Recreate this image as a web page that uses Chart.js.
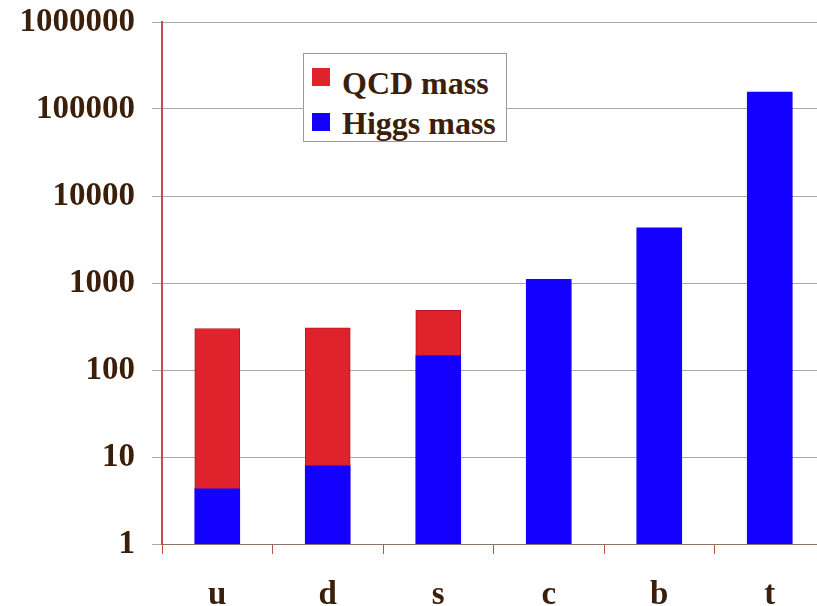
<!DOCTYPE html>
<html>
<head>
<meta charset="utf-8">
<script src="https://cdn.jsdelivr.net/npm/chart.js@4.4.1/dist/chart.umd.min.js"></script>
<style>
  html, body { margin: 0; padding: 0; background: #fff; overflow: hidden; width: 817px; height: 606px; }
  #wrap { position: relative; width: 825px; height: 606px; }
  #legend {
    position: absolute; left: 303px; top: 53px; width: 202px; height: 87px;
    border: 1px solid #9a9a9a; background: #fff;
    font: bold 32px "Liberation Serif", "Times New Roman", serif; color: #3b1f0a;
  }
  #legend .sw { position: absolute; left: 8px; width: 18px; height: 18px; }
  #legend .txt { position: absolute; left: 38px; line-height: 32px; white-space: nowrap; }
</style>
</head>
<body>
<div id="wrap">
  <canvas id="c" width="825" height="606"></canvas>
  <div id="legend"></div>
</div>
<script>
// Quark masses (MeV) on a log axis: Higgs-generated part and total with QCD binding
const quarks = ['u', 'd', 's', 'c', 'b', 't'];
const higgsMass = [4.3, 7.9, 146, 1100, 4300, 157000];
const totalMass = [300, 305, 485, null, null, null];
const yTickValues = [1, 10, 100, 1000, 10000, 100000, 1000000];
const yTickLabels = ['1', '10', '100', '1000', '10000', '100000', '1000000'];

const RED = '#e0222c';
const BLUE = '#1400ff';
const TEXT = '#3b1f0a';
const FONT = { family: 'Liberation Serif', size: 33, weight: 'bold' };

// QCD part is drawn as a floating bar from the Higgs mass up to the total mass
const qcdRanges = quarks.map((q, i) => totalMass[i] == null ? null : [higgsMass[i], totalMass[i]]);

const chart = new Chart(document.getElementById('c'), {
  type: 'bar',
  data: {
    labels: quarks,
    datasets: [
      { label: 'Higgs mass', data: higgsMass, backgroundColor: BLUE, barThickness: 45 },
      { label: 'QCD mass', data: qcdRanges, backgroundColor: RED, borderColor: '#b51a22',
        borderWidth: 1, barThickness: 45 }
    ]
  },
  options: {
    responsive: false,
    animation: false,
    devicePixelRatio: 1,
    layout: { padding: { top: 22, left: 0, right: 0, bottom: 0 } },
    plugins: { legend: { display: false }, tooltip: { enabled: false } },
    scales: {
      x: {
        stacked: true,
        offset: true,
        grid: { offset: true, drawOnChartArea: false, drawTicks: true, tickLength: 10,
                color: '#c0504d', lineWidth: 1 },
        border: { display: true, color: '#8c7468', width: 1 },
        ticks: { font: FONT, color: TEXT, padding: 22 },
        afterFit: s => { s.height = 62; s.paddingLeft = 0; s.paddingRight = 0; }
      },
      y: {
        type: 'logarithmic',
        stacked: false,
        min: 1,
        max: 1000000,
        afterBuildTicks: s => { s.ticks = yTickValues.map(v => ({ value: v })); },
        ticks: { callback: (v, i) => yTickLabels[i], font: FONT, color: TEXT, padding: 17, autoSkip: false },
        grid: { color: '#a9a9a9', lineWidth: 1, tickLength: 10 },
        border: { display: true, color: '#c0504d', width: 2 },
        afterFit: s => { s.width = 162; s.paddingTop = 0; s.paddingBottom = 0; }
      }
    }
  }
});

// Legend box inside the plot, QCD listed above Higgs
const legend = document.getElementById('legend');
const rows = [
  { ds: chart.data.datasets[1], swTop: 14, txtTop: 13 },
  { ds: chart.data.datasets[0], swTop: 59, txtTop: 53 }
];
rows.forEach(r => {
  const sw = document.createElement('div');
  sw.className = 'sw';
  sw.style.top = r.swTop + 'px';
  sw.style.background = r.ds.backgroundColor;
  const t = document.createElement('div');
  t.className = 'txt';
  t.style.top = r.txtTop + 'px';
  t.textContent = r.ds.label;
  legend.appendChild(sw);
  legend.appendChild(t);
});
</script>
</body>
</html>
